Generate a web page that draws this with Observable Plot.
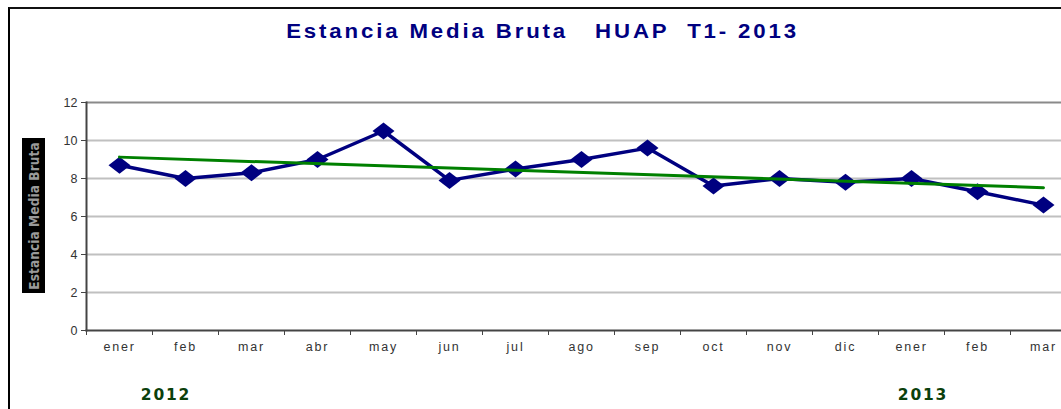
<!DOCTYPE html>
<html>
<head>
<meta charset="utf-8">
<script src="https://cdn.jsdelivr.net/npm/d3@7"></script>
<script src="https://cdn.jsdelivr.net/npm/@observablehq/plot@0.6"></script>
<style>
  html, body { margin: 0; padding: 0; background: #fff; }
  #wrap { position: relative; width: 1061px; height: 409px; overflow: hidden; font-family: "Liberation Sans", Arial, sans-serif; }
  #border { position: absolute; left: 8px; top: 7px; width: 1100px; height: 450px; border-left: 2.5px solid #000; border-top: 2px solid #111; box-sizing: border-box; }
  #title { position: absolute; left: 0; width: 1085px; top: 20px; text-align: center; font-weight: bold; font-size: 19.5px; color: #000080; letter-spacing: 2.5px; white-space: pre; transform: scaleX(1.14); transform-origin: 542px 0; }
  #ylab { position: absolute; left: 22px; top: 138px; width: 23px; height: 155px; background: #000; }
  #ylab span { position: absolute; left: 50%; top: 50%; transform: translate(-50%, -50%) rotate(-90deg); white-space: nowrap; color: #9a9a9a; font-weight: bold; font-size: 13.5px; letter-spacing: 0.1px; font-family: "DejaVu Sans Condensed", "Liberation Sans Narrow", "Liberation Sans", sans-serif; font-stretch: condensed; }
  .year { position: absolute; font-family: "DejaVu Sans", Verdana, sans-serif; font-weight: bold; font-size: 15.5px; letter-spacing: 1.8px; color: #0b400b; transform: translateX(-50%); }
  #plot { position: absolute; left: 0; top: 0; }
  #plot g[aria-label="x-axis tick label"] text { letter-spacing: 1.8px; }
</style>
</head>
<body>
<div id="wrap">
  <div id="border"></div>
  <div id="title">Estancia Media Bruta   HUAP  T1- 2013</div>
  <div id="ylab"><span>Estancia Media Bruta</span></div>
  <div class="year" id="y2012" style="left:166px; top:386px;">2012</div>
  <div class="year" id="y2013" style="left:923px; top:386px;">2013</div>
  <div id="plot"></div>
</div>
<script>
const months = ["ener","feb","mar","abr","may","jun","jul","ago","sep","oct","nov","dic","ener","feb","mar"];
const values = [8.7, 8.0, 8.3, 9.0, 10.5, 7.9, 8.5, 9.0, 9.6, 7.6, 8.0, 7.8, 8.0, 7.3, 6.6];
const yTicks = [0, 2, 4, 6, 8, 10, 12];

const data = months.map((m, i) => ({i, month: m, value: values[i]}));
const centers = data.map(d => d.i);
const bounds = d3.range(-0.5, months.length, 1);

const diamondWide = {
  draw(ctx, size) {
    const s = Math.sqrt(size / Math.PI);
    ctx.moveTo(0, -0.85 * s);
    ctx.lineTo(1.1 * s, 0);
    ctx.lineTo(0, 0.85 * s);
    ctx.lineTo(-1.1 * s, 0);
    ctx.closePath();
  }
};

const chart = Plot.plot({
  width: 1061,
  height: 409,
  marginTop: 102,
  marginBottom: 79,
  marginLeft: 86,
  marginRight: 0,
  style: {background: "transparent", fontFamily: "'Liberation Sans', Arial, sans-serif"},
  x: {type: "linear", domain: [-0.5, months.length - 0.5], range: [86, 86 + 66 * months.length]},
  y: {domain: [0, 12]},
  marks: [
    Plot.ruleY(yTicks.filter(t => t > 0), {y: d => d, stroke: d => d === 12 ? "#8a8a8a" : "#c0c0c0", strokeWidth: 2}),
    Plot.axisY({ticks: yTicks, tickSize: 5, tickPadding: 4, fontSize: 12.5, color: "#333", stroke: "#444", label: null, tickFormat: d => String(d)}),
    Plot.axisX({ticks: bounds, tickSize: 5, tickFormat: () => "", stroke: "#444", label: null}),
    Plot.axisX({ticks: centers, tickSize: 0, tickPadding: 12, fontSize: 12.5, fill: "#333", label: null, tickFormat: i => months[i]}),
    Plot.frame({anchor: "left", stroke: "#444", strokeWidth: 2}),
    Plot.frame({anchor: "bottom", stroke: "#444", strokeWidth: 2}),
    Plot.line(data, {x: "i", y: "value", stroke: "#000080", strokeWidth: 3.5}),
    Plot.dot(data, {x: "i", y: "value", r: 10, symbol: diamondWide, fill: "#000080", stroke: "none"}),
    Plot.linearRegressionY(data, {x: "i", y: "value", stroke: "#008000", strokeWidth: 3, ci: 0})
  ]
});
document.getElementById("plot").appendChild(chart);
</script>
</body>
</html>
